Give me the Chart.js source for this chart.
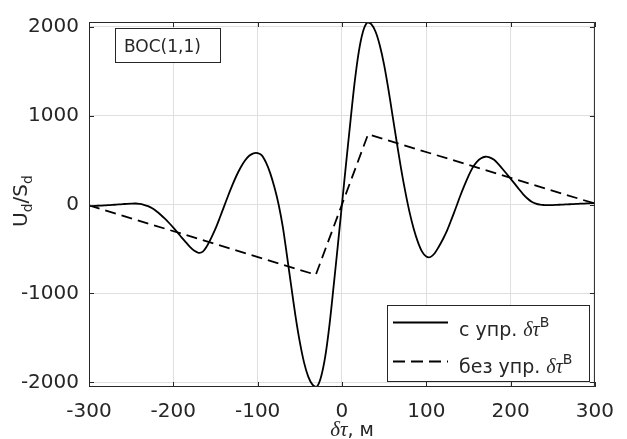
<!DOCTYPE html>
<html>
<head>
<meta charset="utf-8">
<script src="https://cdn.jsdelivr.net/npm/chart.js@4.4.0/dist/chart.umd.min.js"></script>
<style>
  html, body { margin: 0; padding: 0; background: #fff; }
  #chart { display: block; }
</style>
</head>
<body>
<canvas id="chart" width="627" height="439"></canvas>
<script>
// data (every 5 m)
const tauWith = [];
for (let t = -300; t <= 300; t += 5) tauWith.push(t);
const uWith = [
  -15, -16, -14, -12, -9, -6, -3, 1, 4, 8, 10, 11, 7, -3, -18, -42, -75, -115, -160, -208,
  -260, -315, -372, -425, -478, -520, -543, -530, -465, -375, -272, -152, -26, 98, 217, 326,
  419, 495, 548, 576, 578, 552, 470, 350, 190, -5, -260, -590, -930, -1260, -1545, -1775,
  -1935, -2025, -2050, -1945, -1720, -1370, -930, -470, 0, 470, 930, 1370, 1720, 1945, 2045,
  2025, 1940, 1785, 1570, 1300, 1000, 700, 410, 150, -80, -270, -420, -530, -585, -590, -548,
  -472, -385, -285, -165, -40, 90, 210, 320, 415, 480, 520, 537, 530, 505, 460, 405, 348, 290,
  232, 172, 115, 68, 32, 10, -2, -6, -7, -6, -4, -2, 1, 3, 5, 8, 10, 12, 15, 18
];

const tauWithout = [-300, -31, 31, 300];
const uWithout = [-10, -790, 790, 10];

const xTicks = [-300, -200, -100, 0, 100, 200, 300];
const yTicks = [-2000, -1000, 0, 1000, 2000];

const axisColor = '#262626';
const gridColor = '#dfdfdf';
const sans = '"DejaVu Sans"';

function toPoints(xs, ys) {
  return xs.map((x, i) => ({ x: x, y: ys[i] }));
}

// draws text pieces one after another (for sub/superscripts)
function rich(ctx, parts, x, y, align) {
  let w = 0;
  parts.forEach(p => { ctx.font = p.f; w += ctx.measureText(p.t).width; });
  let cx = align === 'center' ? x - w / 2 : x;
  ctx.textAlign = 'left';
  ctx.textBaseline = 'alphabetic';
  parts.forEach(p => {
    ctx.font = p.f;
    ctx.fillText(p.t, cx, y + (p.dy || 0));
    cx += ctx.measureText(p.t).width;
  });
}

const decor = {
  id: 'decor',
  afterDraw(chart) {
    const ctx = chart.ctx;
    const a = chart.chartArea;
    const xs = chart.scales.x, ys = chart.scales.y;
    ctx.save();
    ctx.strokeStyle = axisColor;
    ctx.fillStyle = axisColor;
    ctx.lineWidth = 1;

    // axes box
    ctx.strokeRect(a.left + 0.5, a.top + 0.5, a.right - a.left - 1, a.bottom - a.top - 1);

    // inward ticks
    ctx.beginPath();
    xTicks.forEach(v => {
      const px = Math.round(xs.getPixelForValue(v)) + 0.5;
      ctx.moveTo(px, a.bottom); ctx.lineTo(px, a.bottom - 5);
      ctx.moveTo(px, a.top); ctx.lineTo(px, a.top + 5);
    });
    yTicks.forEach(v => {
      const py = Math.round(ys.getPixelForValue(v)) + 0.5;
      ctx.moveTo(a.left, py); ctx.lineTo(a.left + 5, py);
      ctx.moveTo(a.right, py); ctx.lineTo(a.right - 5, py);
    });
    ctx.stroke();

    // BOC(1,1) label box
    ctx.fillStyle = '#fff';
    ctx.fillRect(115.5, 28.5, 105, 34);
    ctx.strokeRect(115.5, 28.5, 105, 34);
    ctx.fillStyle = axisColor;
    rich(ctx, [{ t: 'BOC(1,1)', f: '17px ' + sans }], 124, 52);

    // legend
    ctx.fillStyle = '#fff';
    ctx.fillRect(387.5, 305.5, 202, 76);
    ctx.strokeRect(387.5, 305.5, 202, 76);
    ctx.strokeStyle = '#000';
    ctx.lineWidth = 1.8;
    ctx.beginPath();
    ctx.moveTo(393, 322.5); ctx.lineTo(448, 322.5);
    ctx.stroke();
    ctx.setLineDash([12, 6]);
    ctx.beginPath();
    ctx.moveTo(393, 361.5); ctx.lineTo(448, 361.5);
    ctx.stroke();
    ctx.setLineDash([]);
    ctx.fillStyle = axisColor;
    const ital = 'italic 20px "Liberation Serif"';
    rich(ctx, [
      { t: 'с упр. ', f: '19px ' + sans },
      { t: 'δτ', f: ital },
      { t: 'В', f: '14px ' + sans, dy: -9 }
    ], 459, 336);
    rich(ctx, [
      { t: 'без упр. ', f: '19px ' + sans },
      { t: 'δτ', f: ital },
      { t: 'В', f: '14px ' + sans, dy: -9 }
    ], 459, 373);

    // x axis title
    rich(ctx, [
      { t: 'δτ', f: 'italic 21px "Liberation Serif"' },
      { t: ', м', f: '19px ' + sans }
    ], 352, 436, 'center');

    // y axis title
    ctx.translate(27, 201);
    ctx.rotate(-Math.PI / 2);
    rich(ctx, [
      { t: 'U', f: '20px ' + sans },
      { t: 'd', f: '14px ' + sans, dy: 5 },
      { t: '/S', f: '20px ' + sans },
      { t: 'd', f: '14px ' + sans, dy: 5 }
    ], 0, 0, 'center');
    ctx.restore();
  }
};

const ctx = document.getElementById('chart');
new Chart(ctx, {
  type: 'scatter',
  data: {
    datasets: [{
      label: 'с упр. δτВ',
      data: toPoints(tauWith, uWith),
      showLine: true,
      borderColor: '#000',
      borderWidth: 1.8,
      pointRadius: 0,
      tension: 0.3
    }, {
      label: 'без упр. δτВ',
      data: toPoints(tauWithout, uWithout),
      showLine: true,
      borderColor: '#000',
      borderWidth: 1.8,
      borderDash: [11, 6],
      pointRadius: 0,
      tension: 0
    }]
  },
  options: {
    responsive: false,
    animation: false,
    devicePixelRatio: 1,
    layout: { padding: { top: 17, right: 24, left: 0, bottom: 0 } },
    plugins: {
      legend: { display: false },
      tooltip: { enabled: false }
    },
    scales: {
      x: {
        type: 'linear',
        min: -300,
        max: 300,
        afterBuildTicks: s => { s.ticks = xTicks.map(v => ({ value: v })); },
        afterFit: s => { s.height = 52; },
        grid: { color: gridColor, drawTicks: false },
        border: { display: false },
        ticks: {
          color: axisColor,
          font: { family: 'DejaVu Sans', size: 20 },
          padding: 13,
          maxRotation: 0,
          autoSkip: false,
          callback: v => String(v)
        }
      },
      y: {
        min: -2052,
        max: 2052,
        afterBuildTicks: s => { s.ticks = yTicks.map(v => ({ value: v })); },
        afterFit: s => { s.width = 89; },
        grid: { color: gridColor, drawTicks: false },
        border: { display: false },
        ticks: {
          color: axisColor,
          font: { family: 'DejaVu Sans', size: 20 },
          padding: 10,
          autoSkip: false,
          callback: v => String(v)
        }
      }
    }
  },
  plugins: [decor]
});
</script>
</body>
</html>
